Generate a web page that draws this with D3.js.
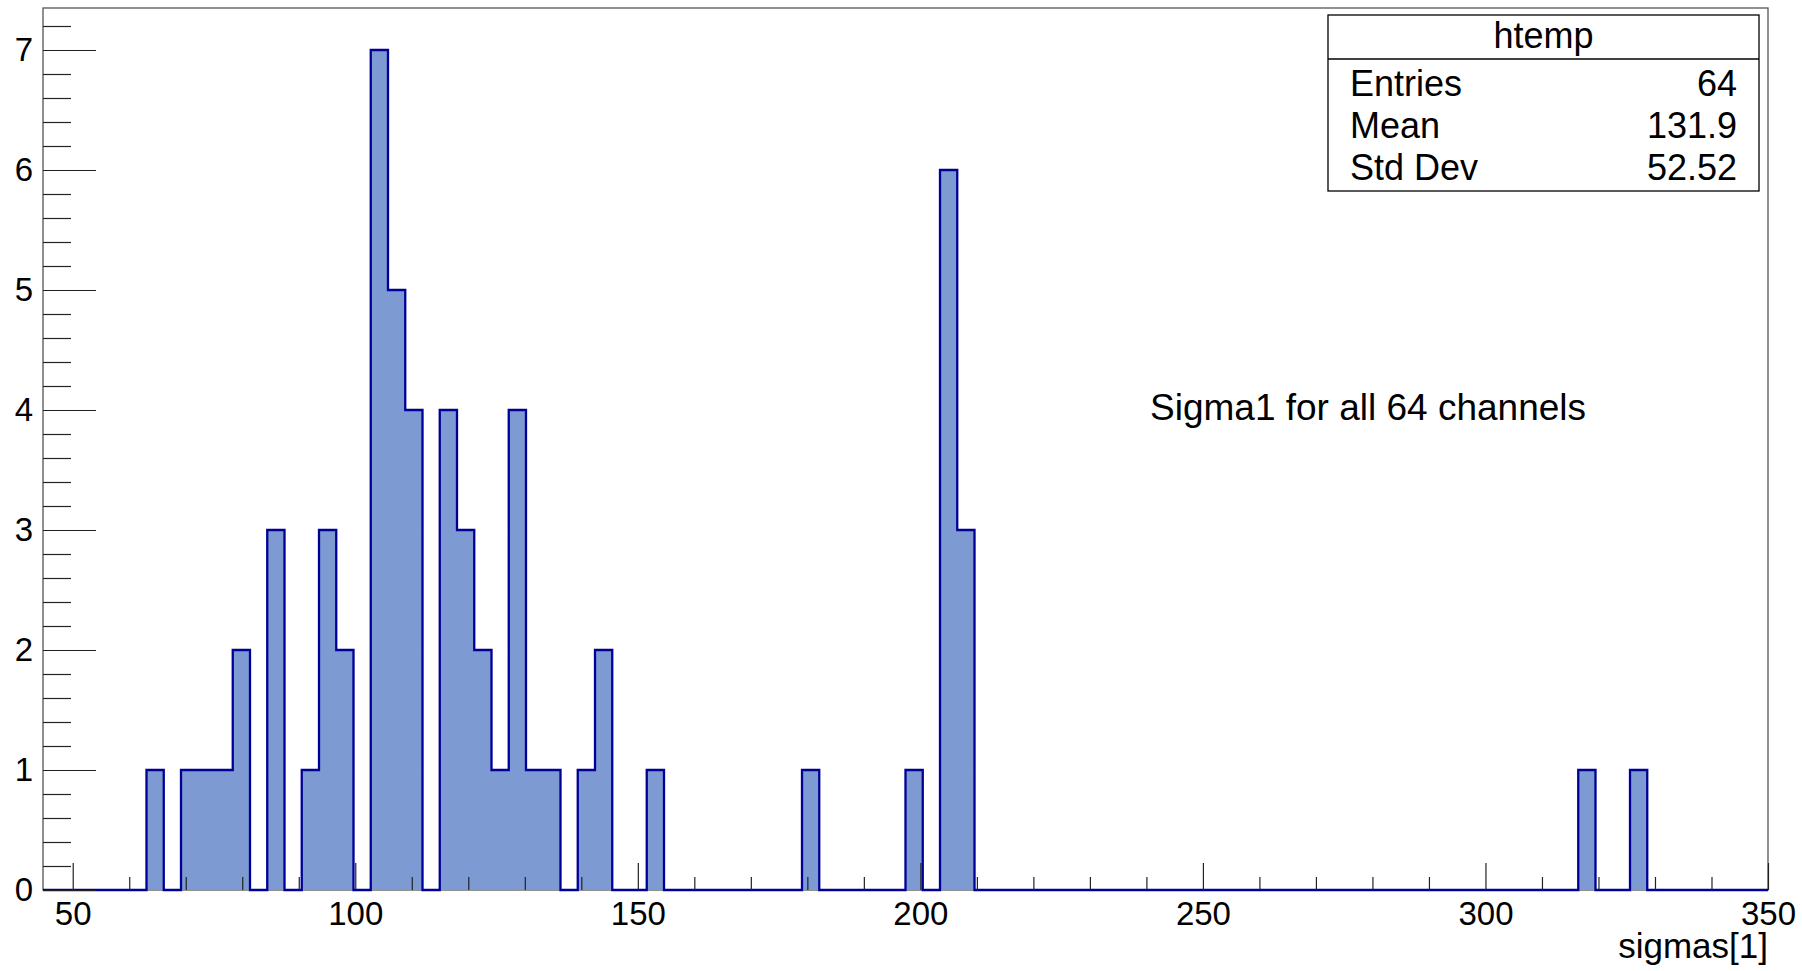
<!DOCTYPE html>
<html>
<head>
<meta charset="utf-8">
<script src="https://cdn.jsdelivr.net/npm/d3@7"></script>
<style>
  html, body { margin: 0; padding: 0; background: #fff; }
  svg { display: block; font-family: "Liberation Sans", Arial, Helvetica, sans-serif; }
</style>
</head>
<body>
<svg id="chart" width="1802" height="971"></svg>
<script>
// histogram range as ROOT picked it for htemp (100 bins)
const xMin = 44.74;
const xMax = 350;
const yMax = 7.35;

// bin contents, bin 0 .. 99
const counts = [
  0, 0, 0, 0, 0, 0, 1, 0, 1, 1,
  1, 2, 0, 3, 0, 1, 3, 2, 0, 7,
  5, 4, 0, 4, 3, 2, 1, 4, 1, 1,
  0, 1, 2, 0, 0, 1, 0, 0, 0, 0,
  0, 0, 0, 0, 1, 0, 0, 0, 0, 0,
  1, 0, 6, 3, 0, 0, 0, 0, 0, 0,
  0, 0, 0, 0, 0, 0, 0, 0, 0, 0,
  0, 0, 0, 0, 0, 0, 0, 0, 0, 0,
  0, 0, 0, 0, 0, 0, 0, 0, 0, 1,
  0, 0, 1, 0, 0, 0, 0, 0, 0, 0
];

const xMajorTicks = [50, 100, 150, 200, 250, 300, 350];
const xMinorTicks = d3.range(60, 350, 10).filter(v => v % 50 !== 0);
const yMajorTicks = [0, 1, 2, 3, 4, 5, 6, 7];
const yMinorTicks = d3.range(1, 37).map(i => i * 0.2).filter(v => Math.abs(v - Math.round(v)) > 1e-6);

const statLabels = ['Entries', 'Mean', 'Std Dev'];
const statValues = ['64', '131.9', '52.52'];

const histTitle = 'htemp';
const xTitle = 'sigmas[1]';
const note = 'Sigma1 for all 64 channels';

const frame = { left: 43, right: 1768, top: 8, bottom: 890 };
const fillColor = '#7d9ad2';
const lineColor = '#000096';

const svg = d3.select('#chart');

const x = d3.scaleLinear()
  .domain([xMin, xMax])
  .range([frame.left, frame.right]);

const y = d3.scaleLinear()
  .domain([0, yMax])
  .range([frame.bottom, frame.top]);

const binWidth = (xMax - xMin) / counts.length;

// frame
svg.append('rect')
  .attr('x', frame.left)
  .attr('y', frame.top)
  .attr('width', frame.right - frame.left)
  .attr('height', frame.bottom - frame.top)
  .attr('fill', 'none')
  .attr('stroke', '#555')
  .attr('stroke-width', 1.3);

// step outline of the histogram
const pts = [[xMin, 0]];
counts.forEach((c, i) => pts.push([xMin + i * binWidth, c]));
pts.push([xMax, 0]);

const step = d3.line()
  .x(d => x(d[0]))
  .y(d => y(d[1]))
  .curve(d3.curveStepAfter);

svg.append('path')
  .attr('d', step(pts))
  .attr('fill', fillColor)
  .attr('stroke', lineColor)
  .attr('stroke-width', 2.3)
  .attr('stroke-linejoin', 'miter');

// x axis, ticks point into the frame
const xAxisG = svg.append('g')
  .attr('transform', `translate(0,${frame.bottom})`);

xAxisG.append('g')
  .call(d3.axisBottom(x).tickValues(xMinorTicks).tickSize(-13).tickFormat(''))
  .call(g => g.select('.domain').remove());

xAxisG.append('g')
  .call(d3.axisBottom(x).tickValues(xMajorTicks).tickSize(-27).tickPadding(12).tickFormat(d3.format('d')))
  .call(g => g.select('.domain').remove());

// y axis
const yAxisG = svg.append('g')
  .attr('transform', `translate(${frame.left},0)`);

yAxisG.append('g')
  .call(d3.axisLeft(y).tickValues(yMinorTicks).tickSize(-28).tickFormat(''))
  .call(g => g.select('.domain').remove());

yAxisG.append('g')
  .call(d3.axisLeft(y).tickValues(yMajorTicks).tickSize(-53).tickPadding(10).tickFormat(d3.format('d')))
  .call(g => g.select('.domain').remove());

svg.selectAll('.tick line')
  .attr('stroke', '#222')
  .attr('stroke-width', 1.2);

svg.selectAll('.tick text')
  .attr('font-family', '"Liberation Sans", Arial, sans-serif')
  .attr('font-size', 33)
  .attr('fill', '#000');

// axis title
svg.append('text')
  .attr('x', frame.right)
  .attr('y', 958)
  .attr('text-anchor', 'end')
  .attr('font-size', 35)
  .text(xTitle);

// text annotation
svg.append('text')
  .attr('x', 1150)
  .attr('y', 420)
  .attr('font-size', 37)
  .text(note);

// stats box
const box = { left: 1328, right: 1759, top: 15, bottom: 191, sep: 59 };
const stats = svg.append('g');

stats.append('rect')
  .attr('x', box.left)
  .attr('y', box.top)
  .attr('width', box.right - box.left)
  .attr('height', box.bottom - box.top)
  .attr('fill', '#fff')
  .attr('stroke', '#000')
  .attr('stroke-width', 1.3);

stats.append('line')
  .attr('x1', box.left)
  .attr('x2', box.right)
  .attr('y1', box.sep)
  .attr('y2', box.sep)
  .attr('stroke', '#000')
  .attr('stroke-width', 1.3);

stats.append('text')
  .attr('x', (box.left + box.right) / 2)
  .attr('y', 48)
  .attr('text-anchor', 'middle')
  .attr('font-size', 36)
  .text(histTitle);

const rowY = d3.scalePoint()
  .domain(statLabels)
  .range([95.5, 180]);

stats.selectAll('.slabel')
  .data(statLabels)
  .enter()
  .append('text')
  .attr('class', 'slabel')
  .attr('x', 1350)
  .attr('y', d => rowY(d))
  .attr('font-size', 36)
  .text(d => d);

stats.selectAll('.svalue')
  .data(statValues)
  .enter()
  .append('text')
  .attr('class', 'svalue')
  .attr('x', 1737)
  .attr('y', (d, i) => rowY(statLabels[i]))
  .attr('text-anchor', 'end')
  .attr('font-size', 36)
  .text(d => d);
</script>
</body>
</html>
